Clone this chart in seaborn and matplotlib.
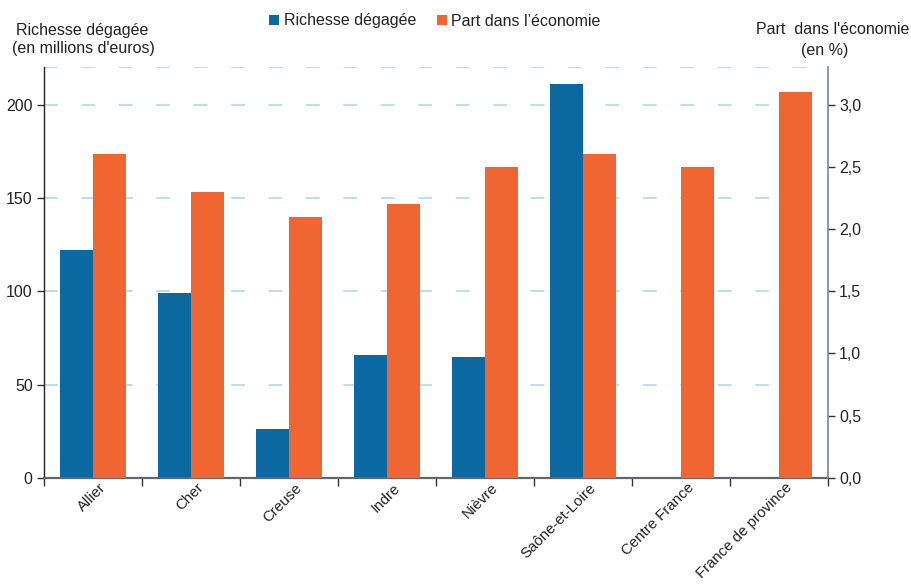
import numpy as np
import pandas as pd
import matplotlib
matplotlib.use("Agg")
import matplotlib.pyplot as plt
from matplotlib.lines import Line2D
from matplotlib.ticker import FuncFormatter
from matplotlib.transforms import ScaledTranslation
import seaborn as sns

categories = ["Allier", "Cher", "Creuse", "Indre", "Nièvre", "Saône-et-Loire",
              "Centre France", "France de province"]
richesse = [122, 99, 26, 66, 65, 211, np.nan, np.nan]          # millions d'euros
part = [2.6, 2.3, 2.1, 2.2, 2.5, 2.6, 2.5, 3.1]                 # %
series = ["Richesse dégagée", "Part dans l’économie"]
left_ticks = [0, 50, 100, 150, 200]
right_ticks = [0, 0.5, 1.0, 1.5, 2.0, 2.5, 3.0]

BLUE = "#0b68a1"
ORANGE = "#ef6633"
GRID = "#a9d5ee"
TXT = "#222222"
FS = 11.5

sns.set_theme(style="white")
plt.rcParams['font.family'] = ['Liberation Sans', 'DejaVu Sans']

df_left = pd.DataFrame({"cat": categories, "val": richesse, "serie": series[0]})
df_right = pd.DataFrame({"cat": categories, "val": part, "serie": series[1]})

fig = plt.figure(figsize=(9.12, 5.85), dpi=100)
ax1 = fig.add_axes([0.048, 0.183, 0.86, 0.702])
ax2 = ax1.twinx()

pal = {series[0]: BLUE, series[1]: ORANGE}
sns.barplot(data=df_left.dropna(), x="cat", y="val", hue="serie", hue_order=series,
            order=categories, palette=pal, ax=ax1, width=0.67, dodge=True,
            linewidth=0, legend=False, errorbar=None, saturation=1)
sns.barplot(data=df_right, x="cat", y="val", hue="serie", hue_order=series,
            order=categories, palette=pal, ax=ax2, width=0.67, dodge=True,
            linewidth=0, legend=False, errorbar=None, saturation=1)

ax1.set_xlim(-0.5, len(categories) - 0.5)
ax1.set_ylim(0, 220)
ax2.set_ylim(0, 3.3)

ax1.set_yticks(left_ticks)
ax1.grid(False)
ax2.grid(False)
for y in left_ticks[1:] + [220]:
    ax1.axhline(y, color=GRID, lw=1.1, dashes=(9, 15.5), zorder=0.5)

ax2.set_yticks(right_ticks)
ax2.yaxis.set_major_formatter(FuncFormatter(lambda v, p: f"{v:.1f}".replace(".", ",")))

# x ticks: labels at centres, tick marks at boundaries
ax1.set_xticks(range(len(categories)))
ax1.set_xticklabels(categories, rotation=45, ha="right", rotation_mode="anchor",
                    fontsize=10.8, color=TXT)
ax1.tick_params(axis="x", which="major", length=0, pad=2)
offset = ScaledTranslation(6 / 100, 0, fig.dpi_scale_trans)
for lbl in ax1.get_xticklabels():
    lbl.set_transform(lbl.get_transform() + offset)
ax1.set_xticks(np.arange(-0.5, len(categories)), minor=True)
ax1.tick_params(axis="x", which="minor", length=6, width=1, color="#333333",
                direction="out", bottom=True)

ax1.tick_params(axis="y", which="major", length=5, width=1, color="#333333", labelsize=FS,
                labelcolor=TXT, left=True, direction="out", pad=3)
ax2.tick_params(axis="y", which="major", length=5, width=1, color="#333333", labelsize=FS,
                labelcolor=TXT, right=True, direction="out", pad=3)

ax1.set_xlabel("")
ax1.set_ylabel("")
ax2.set_ylabel("")

for ax in (ax1, ax2):
    ax.spines["top"].set_visible(False)
ax1.spines["left"].set_color("#222222")
ax1.spines["left"].set_linewidth(1)
ax1.spines["right"].set_visible(False)
ax2.spines["left"].set_visible(False)
ax2.spines["right"].set_color("#7d868d")
ax2.spines["right"].set_linewidth(1.2)
ax2.spines["bottom"].set_visible(False)
ax1.spines["bottom"].set_color("#5f676d")
ax1.spines["bottom"].set_linewidth(1.6)

W, H = 912.0, 585.0
def ft(x, y, s, **kw):
    fig.text(x / W, 1 - y / H, s, ha="center", va="center", fontsize=FS, color=TXT, **kw)

# axis titles
ft(82, 30, "Richesse dégagée")
ft(83, 49, "(en millions d'euros)")
ft(833, 30, "Part  dans l'économie")
ft(825, 50, "(en %)")

handles = [Line2D([0], [0], marker="s", color="none", markerfacecolor=BLUE,
                  markeredgewidth=0, markersize=6.5),
           Line2D([0], [0], marker="s", color="none", markerfacecolor=ORANGE,
                  markeredgewidth=0, markersize=6.5)]
fig.legend(handles, series, loc="center", bbox_to_anchor=(0.477, 1 - 21 / H), ncol=2,
           frameon=False, fontsize=FS, handlelength=0.6, handletextpad=0.3,
           columnspacing=1.3, labelcolor=TXT)

fig.savefig("out.png", dpi=100)
